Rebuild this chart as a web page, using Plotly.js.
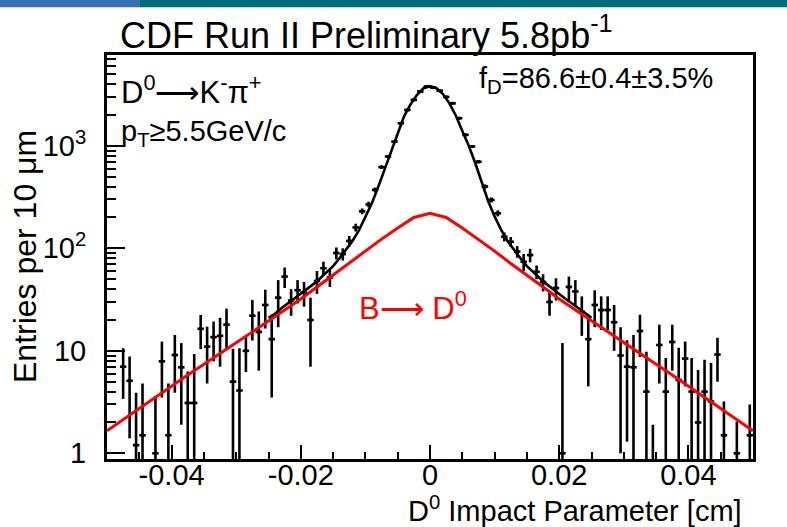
<!DOCTYPE html>
<html><head><meta charset="utf-8">
<script src="https://cdn.plot.ly/plotly-3.0.1.min.js"></script>
<style>html,body{margin:0;padding:0;background:#fff}</style>
</head><body>
<div id="chart" style="width:787px;height:527px"></div>
<script>
// ---- data ----
const histMin = -0.05;      // cm, left edge of first bin
const binWidth = 0.001;     // 10 um bins
const counts = [
  null, null, 7.0, 5.1, 1.2, 1.5, null, 1.0, 7.9, 1.5,
  9.1, 6.9, 3.1, 3.1, 16.4, 11.0, 13.6, 14.0, 18.0, 5.0,
  4.1, 10.0, 22.0, 15.3, 28.0, 13.0, 33.0, 53.0, 31.0, 39.0,
  37.0, 20.0, 48.0, 64.0, 52.0, 90.0, 88.0, 118, 160, 230,
  268, 372, 620, 787, 1100, 1660, 2240, 2810, 3390, 3790,
  3700, 3450, 3000, 2600, 1860, 1280, 985, 700, 401, 297,
  220, 130, 116, 93, 74, 86, 59, 47, 30, 41,
  1.0, 42, 38, 24, 13, 28, 25, 25, 19, 9.0,
  7.0, 6.9, 15.6, 4.0, 0.8, 11.4, 4.0, 12.2, 5.2, 8.4,
  4.0, 2.0, 4.0, 3.2, 9.2, 1.5, null, 1.0, null, 1.5
];
const errors = [
  0, 0, 3.6, 3.7, 2.7, 3.3, 0, 2.6, 4.4, 3.3,
  5.2, 5.0, 3.2, 6.2, 6.0, 6.2, 5.7, 7.0, 7.8, 5.5,
  6.5, 3.8, 9.4, 8.9, 11.5, 9.5, 16.0, 12.0, 9.0, 10.0,
  10.0, 13.0, 12.0, 10.0, 10.0, 12.0, 12.0, 14, 14, 15,
  17, 20, 25, 28, 33, 41, 47, 53, 58, 62,
  61, 59, 55, 51, 43, 36, 31, 26, 20, 17,
  15, 13, 13, 12, 14, 13, 9, 9, 8, 10,
  10.9, 11, 11, 10, 8.5, 11, 9, 9, 9, 8,
  5.7, 7.4, 6.9, 5.8, 1.1, 6.6, 4.5, 5.8, 5.5, 3.9,
  4.5, 4.5, 4.2, 4.4, 4.2, 1.7, 0, 1.04, 0, 1.5
];
// total fit (black curve), sampled every 0.001 cm from -0.025 to 0.025
const fitStart = -0.025;
const fitStep = 0.001;
const fitTotal = [
  21, 23, 26, 29, 32, 36, 40, 45, 51, 58,
  67, 80, 96, 118, 150, 200, 275, 400, 600, 900,
  1350, 1950, 2550, 3150, 3650, 3820, 3650, 3200, 2600, 1980,
  1400, 1000, 680, 440, 290, 205, 152, 118, 96, 80,
  67, 58, 51, 45, 40, 36, 32, 29, 26, 23, 21
];
// B -> D0 component, sampled every 0.0025 cm from -0.05 to 0.05
const bStep = 0.0025;
const bComponent = [
  1.66, 2.14, 2.75, 3.5, 4.5, 5.8, 7.4, 9.4, 12.0, 15.3,
  19.5, 25, 32, 42, 55, 71, 94, 123, 158, 200,
  220,
  200, 158, 123, 94, 71, 55, 42, 32, 25, 19.5,
  15.3, 12.0, 9.4, 7.4, 5.8, 4.5, 3.5, 2.75, 2.14, 1.66
];
const xTickVals = [-0.04, -0.02, 0, 0.02, 0.04];
const xTickText = ['-0.04', '-0.02', '0', '0.02', '0.04'];
const yTickVals = [1, 10, 100, 1000];
const yTickText = ['1', '10', '10<sup>2</sup>', '10<sup>3</sup>'];

// ---- derived ----
const binCenters = counts.map((_, i) => histMin + binWidth * (i + 0.5));
const fitX = fitTotal.map((_, i) => fitStart + fitStep * i);
const bX = bComponent.map((_, i) => histMin + bStep * i);
const minorY = [];
[1, 10, 100, 1000].forEach(d => { for (let m = 2; m <= 9; m++) minorY.push(m * d); });

const FONT = 'Liberation Sans, Arial, Helvetica, sans-serif';
const L = 107, R = 753, T = 55, B = 459;
const W = R - L, H = B - T;
const px = (x) => (x - L) / W;
const py = (y) => (B - y) / H;

const traces = [
  {
    x: fitX, y: fitTotal, type: 'scatter', mode: 'lines',
    line: {color: '#000', width: 2.6},
    hoverinfo: 'skip', showlegend: false
  },
  {
    x: binCenters, y: counts, type: 'scatter', mode: 'markers',
    marker: {color: '#000', size: 3, symbol: 'square'},
    error_y: {type: 'data', array: errors, symmetric: true, color: '#000', thickness: 2.6, width: 0},
    error_x: {type: 'constant', value: binWidth / 2, color: '#000', thickness: 2.6, width: 0},
    hoverinfo: 'skip', showlegend: false
  },
  {
    x: bX, y: bComponent, type: 'scatter', mode: 'lines',
    line: {color: '#ff0000', width: 3},
    hoverinfo: 'skip', showlegend: false
  }
];

const ann = (x, y, text, opts) => Object.assign({
  xref: 'paper', yref: 'paper', x: px(x), y: py(y), text: text, showarrow: false,
  xanchor: 'left', yanchor: 'middle',
  font: {family: FONT, size: 30, color: '#000'}
}, opts || {});

const layout = {
  width: 787, height: 527,
  margin: {l: L, r: 787 - R, t: T, b: 527 - B, pad: 0},
  paper_bgcolor: '#fff', plot_bgcolor: '#fff',
  showlegend: false,
  title: {
    text: 'CDF Run II Preliminary 5.8pb<sup>-1</sup>',
    font: {family: FONT, size: 36, color: '#000'},
    xref: 'container', yref: 'container',
    x: 120 / 787, xanchor: 'left', y: 1 - 35 / 527, yanchor: 'middle'
  },
  xaxis: {
    range: [-0.05, 0.05], showgrid: false, zeroline: false,
    showline: true, linewidth: 3, linecolor: '#000', mirror: true,
    tickmode: 'array', tickvals: xTickVals, ticktext: xTickText,
    ticks: 'inside', ticklen: 14, tickwidth: 2, tickcolor: '#000',
    minor: {tickmode: 'linear', tick0: 0, dtick: 0.005, ticks: 'inside', ticklen: 7, tickwidth: 2, tickcolor: '#000', showgrid: false},
    tickfont: {family: FONT, size: 29, color: '#000'},
    ticklabelstandoff: -12
  },
  yaxis: {
    type: 'log', range: [Math.log10(0.88), Math.log10(7700)],
    showgrid: false, zeroline: false,
    showline: true, linewidth: 3, linecolor: '#000', mirror: true,
    tickmode: 'array', tickvals: yTickVals, ticktext: yTickText,
    ticks: 'inside', ticklen: 18, tickwidth: 2, tickcolor: '#000',
    minor: {tickmode: 'array', tickvals: minorY, ticks: 'inside', ticklen: 9, tickwidth: 2, tickcolor: '#000', showgrid: false},
    tickfont: {family: FONT, size: 29, color: '#000'},
    ticklabelstandoff: 12
  },
  shapes: [
    {type: 'rect', xref: 'paper', yref: 'paper', x0: px(0), x1: px(140), y0: py(7.3), y1: py(0), fillcolor: '#3a6eb4', line: {width: 0}},
    {type: 'rect', xref: 'paper', yref: 'paper', x0: px(140), x1: px(787), y0: py(7.3), y1: py(0), fillcolor: '#006e78', line: {width: 0}}
  ],
  annotations: [
    ann(119, 90, 'D<sup>0</sup>⟶K<sup>-</sup>π<sup>+</sup>', {font: {family: FONT, size: 31, color: '#000'}}),
    ann(119, 133, 'p<sub>T</sub>≥5.5GeV/c', {font: {family: FONT, size: 29, color: '#000'}}),
    ann(477, 80, 'f<sub>D</sub>=86.6±0.4±3.5%', {font: {family: FONT, size: 29, color: '#000'}}),
    ann(357, 306, 'B⟶ D<sup>0</sup>', {font: {family: FONT, size: 31, color: '#ff0000'}}),
    ann(25, 257, 'Entries per 10 μm', {xanchor: 'center', textangle: -90, font: {family: FONT, size: 32, color: '#000'}}),
    ann(744, 509, 'D<sup>0</sup> Impact Parameter [cm]', {xanchor: 'right', font: {family: FONT, size: 29, color: '#000'}})
  ]
};

Plotly.newPlot('chart', traces, layout, {staticPlot: true, displayModeBar: false});
</script>
</body></html>
